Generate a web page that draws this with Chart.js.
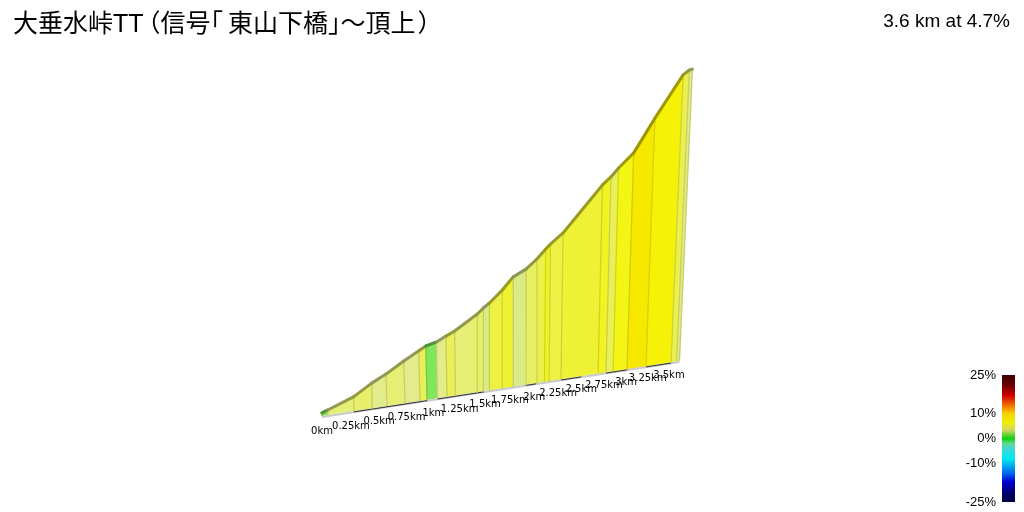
<!DOCTYPE html>
<html>
<head>
<meta charset="utf-8">
<script src="https://cdn.jsdelivr.net/npm/chart.js@4"></script>
<style>
  html, body { margin: 0; padding: 0; background: #fff; overflow: hidden; }
  #wrap { position: relative; width: 1024px; height: 512px; }
  #profile { position: absolute; left: 0; top: 0; }
  #bar { position: absolute; left: 950px; top: 365px; }
  #title { position: absolute; left: 13px; top: 5px; font: 25px/36px "Liberation Sans", "Noto Sans CJK JP"; color: #000; white-space: nowrap; }
  #title .open { margin-left: -8px; }
  #title .corner { margin-right: 5px; }
  #title .close { margin-left: 2px; }
  #summary { position: absolute; right: 14px; top: 9px; font: 19px/24px "Liberation Sans"; color: #000; white-space: nowrap; }
</style>
</head>
<body>
<div id="wrap">
  <canvas id="profile" width="1024" height="512"></canvas>
  <canvas id="bar" width="74" height="145"></canvas>
  <div id="title">大垂水峠TT<span class="open">（</span>信号<span class="corner">｢</span>東山下橋｣～頂上<span class="close">）</span></div>
  <div id="summary">3.6 km at 4.7%</div>
</div>
<script>
// distance along the climb (km) and elevation gained (m)
const distances = [0, 0.051, 0.277, 0.445, 0.571, 0.735, 0.874, 0.94, 1.039, 1.129, 1.211, 1.43, 1.489, 1.548, 1.674, 1.782, 1.909, 2.018, 2.107, 2.154, 2.282, 2.685, 2.773, 2.853, 3.011, 3.23, 3.525, 3.592, 3.626];
const elevations = [1.5, 2.5, 7, 12.6, 16, 21.4, 25.5, 27.5, 28.9, 31.3, 33.4, 40.8, 43.6, 45.9, 52, 58.4, 61.9, 66.8, 71.8, 74.2, 79.7, 104.7, 108.9, 113.7, 121.8, 141.1, 165.7, 168.5, 169];
// gradient (%) of each stretch between two distances
const grades = [1.5, 3.8, 4.3, 3, 3.9, 3, 5, 1.5, 3, 5, 3.9, 4.5, 2.8, 5.7, 6.3, 2.8, 4.6, 5.5, 6.8, 5.7, 6.2, 6.8, 5, 7.2, 8.8, 8, 5.5, 3.5];

const tickKm = [0, 0.25, 0.5, 0.75, 1, 1.25, 1.5, 1.75, 2, 2.25, 2.5, 2.75, 3, 3.25, 3.5];
const tickLabels = ["0km", "0.25km", "0.5km", "0.75km", "1km", "1.25km", "1.5km", "1.75km", "2km", "2.25km", "2.5km", "2.75km", "3km", "3.25km", "3.5km"];

// stretches where the dark ground line shows from under the road
const darkFrom = [0.277, 1.039, 1.909, 2.282, 2.773, 3.23];
const darkTo = [0.94, 1.489, 2.018, 2.5, 3.011, 3.525];

const barTicks = [25, 10, 0, -10, -25];
const barGrades = [25, 21, 17, 13.5, 10, 6.5, 3.5, 0, -2, -4, -8, -14, -17, -21.5, -25];
const barColours = ["#3c0000", "#6a0000", "#d00000", "#f06000", "#f8d000", "#eeee00", "#d8d860", "#10d010", "#60d890", "#40d8d8", "#00e8f0", "#0060f0", "#0000d0", "#000070", "#000040"];

// fills of the road are paler than the colour bar
const fillGrades = [1.5, 2, 3, 4, 5, 6, 6.5, 7.5, 8.8];
const fillColours = [[128, 230, 90], [184, 232, 112], [226, 236, 140], [230, 238, 112], [232, 239, 88], [238, 242, 60], [240, 242, 40], [244, 247, 12], [247, 232, 0]];

function fillRgb(g) {
  let i = 0;
  while (i < fillGrades.length - 2 && g > fillGrades[i + 1]) i++;
  const t = Math.min(1, Math.max(0, (g - fillGrades[i]) / (fillGrades[i + 1] - fillGrades[i])));
  return fillColours[i].map((c, k) => Math.round(c + (fillColours[i + 1][k] - c) * t));
}
const rgb = (c, f) => `rgb(${c.map(v => Math.round(v * f)).join(",")})`;

// oblique view of the climb, the far end is smaller
function project(km, metres) {
  const u = 117.2 * km / (1 + 0.0521 * km);
  const baseX = 322 + u;
  const baseY = 416 - 0.1536 * u;
  const h = metres * 2.054 / (1 + 0.0521 * km);
  return { x: baseX + (baseX - 509) / (4200 - baseY) * h, y: baseY - h };
}

const lastKm = distances[distances.length - 1];
const datasets = [];

// top edge
datasets.push({
  data: distances.map((d, i) => project(d, elevations[i])),
  showLine: true, fill: false, pointRadius: 0, borderWidth: 3, order: 0,
  borderColor: "#9a9a20",
  borderCapStyle: "round",
  segment: { borderColor: c => rgb(fillRgb(grades[c.p0DataIndex]), 0.64) }
});

// dividers between the stretches
distances.forEach((d, i) => {
  const g = grades[Math.min(i, grades.length - 1)];
  datasets.push({
    data: [project(d, 0), project(d, elevations[i])],
    showLine: true, fill: false, pointRadius: 0, borderWidth: 1.3, order: 1,
    borderColor: rgb(fillRgb(g), 0.87)
  });
});

// ground line
darkFrom.forEach((d, i) => {
  datasets.push({
    data: [project(d, -0.4), project(darkTo[i], -0.4)],
    showLine: true, fill: false, pointRadius: 0, borderWidth: 1, borderColor: "#333", order: 2
  });
});
datasets.push({
  data: [project(0, -0.5), project(lastKm, -0.5)],
  showLine: true, fill: false, pointRadius: 0, borderWidth: 2, borderColor: "#c8c8c8", order: 3
});

grades.forEach((g, i) => {
  const a = distances[i], b = distances[i + 1];
  datasets.push({
    data: [project(a, 0), project(a, elevations[i]), project(b, elevations[i + 1]), project(b, 0), project(a, 0)],
    showLine: true, fill: "shape", pointRadius: 0, borderWidth: 0, order: 4,
    backgroundColor: rgb(fillRgb(g), 1)
  });
});

const kmLabels = {
  id: "kmLabels",
  afterDatasetsDraw(chart) {
    const { ctx, scales } = chart;
    ctx.save();
    ctx.font = '10px "DejaVu Sans"';
    ctx.fillStyle = "#000";
    ctx.textAlign = "center";
    ctx.textBaseline = "middle";
    tickKm.forEach((km, i) => {
      const p = project(km, 0);
      ctx.fillText(tickLabels[i], scales.x.getPixelForValue(p.x), scales.y.getPixelForValue(p.y + 15 / (1 + 0.0521 * km)));
    });
    ctx.restore();
  }
};

new Chart(document.getElementById("profile"), {
  type: "scatter",
  data: { datasets },
  plugins: [kmLabels],
  options: {
    responsive: false,
    animation: false,
    devicePixelRatio: 1,
    layout: { padding: 0 },
    plugins: { legend: { display: false }, tooltip: { enabled: false } },
    scales: {
      x: { type: "linear", min: 0, max: 1024, display: false },
      y: { type: "linear", min: 0, max: 512, reverse: true, display: false }
    }
  }
});

new Chart(document.getElementById("bar"), {
  type: "bar",
  data: {
    labels: ["grade"],
    datasets: [{
      data: [[-25, 25]],
      barPercentage: 1,
      categoryPercentage: 1,
      backgroundColor(c) {
        const area = c.chart.chartArea;
        if (!area) return "#000";
        const grad = c.chart.ctx.createLinearGradient(0, area.top, 0, area.bottom);
        barGrades.forEach((g, i) => grad.addColorStop((25 - g) / 50, barColours[i]));
        return grad;
      }
    }]
  },
  options: {
    responsive: false,
    animation: false,
    devicePixelRatio: 1,
    layout: { padding: { top: 10, bottom: 8, right: 9, left: 0 } },
    plugins: { legend: { display: false }, tooltip: { enabled: false } },
    scales: {
      x: { display: false },
      y: {
        min: -25, max: 25,
        grid: { display: false, drawTicks: false },
        border: { display: false },
        afterBuildTicks(s) { s.ticks = barTicks.map(value => ({ value })); },
        afterFit(s) { s.width = 52; s.paddingTop = 0; s.paddingBottom = 0; },
        ticks: {
          autoSkip: false, padding: 6, color: "#000",
          font: { family: '"Liberation Sans"', size: 13 },
          callback: v => v + "%"
        }
      }
    }
  }
});
</script>
</body>
</html>
